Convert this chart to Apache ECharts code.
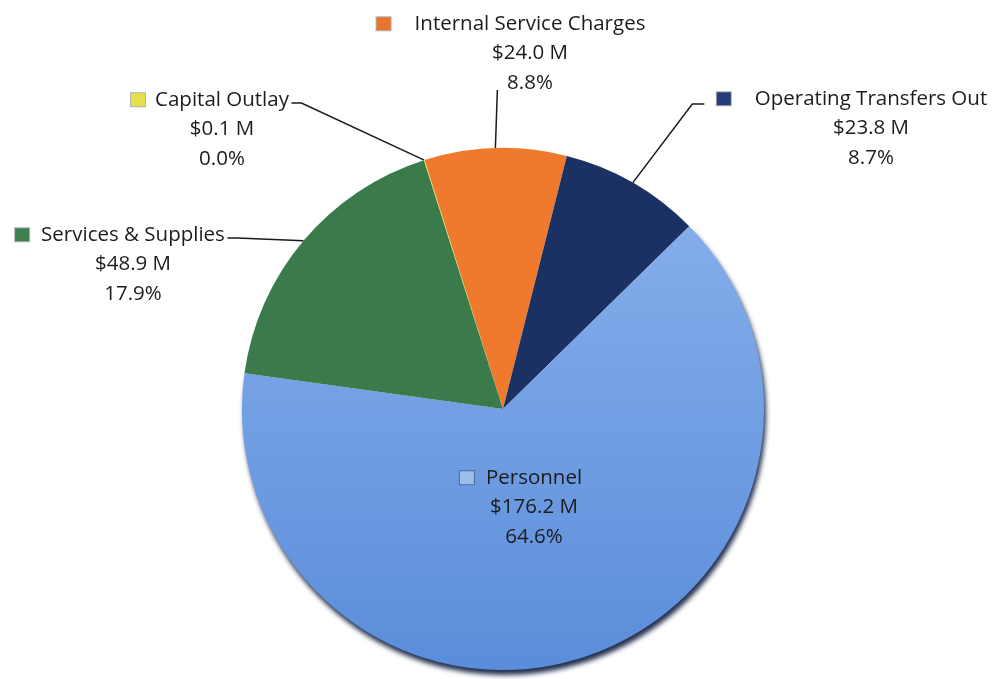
<!DOCTYPE html>
<html>
<head>
<meta charset="utf-8">
<script src="https://cdn.jsdelivr.net/npm/echarts@6/dist/echarts.min.js"></script>
<style>
html,body{margin:0;padding:0;background:#ffffff;}
#chart{width:1000px;height:679px;}
</style>
</head>
<body>
<div id="chart"></div>
<script>
// ---- data ----
const categories = ['Internal Service Charges', 'Operating Transfers Out', 'Personnel', 'Services & Supplies', 'Capital Outlay'];
const amounts = [24.0, 23.8, 176.2, 48.9, 0.1];           // $ millions
const percentLabels = ['8.8%', '8.7%', '64.6%', '17.9%', '0.0%'];

// ---- styles / layout ----
const sliceColors = [
  '#EF7A2E',
  '#1C3163',
  { type: 'linear', x: 0, y: 0, x2: 0, y2: 1, colorStops: [{ offset: 0, color: '#84ADEA' }, { offset: 1, color: '#5A8DDA' }] },
  '#3B7B4B',
  '#E4DC3C'
];
const iconColors = ['#E8742E', '#243C7A', '#9DBDEA', '#3E8050', '#E6E04A'];
const labelPos = [[530, 9], [871, 84], [534, 463], [133, 220], [222, 85]]; // text centre x, block top y
const lineSide = ['bottom', 'left', 'none', 'right', 'right'];
const iconGap = [24, 24, 12, 12, 10];
const ICON_W = 14;
const LINE_H = 29.5;
const FONT_SIZE = 20.5;
const FONT = '"Open Sans", Lato, sans-serif';
const TEXT_COLOR = '#1c1c1c';

const data = categories.map(function (name, i) {
  const item = {
    name: name,
    value: amounts[i],
    itemStyle: { color: sliceColors[i] },
    label: {
      formatter: '{i|}{g|}{n|' + name + '}{g|}{e|}\n{v|$' + amounts[i].toFixed(1) + ' M}\n{v|' + percentLabels[i] + '}',
      rich: {
        i: { width: ICON_W, height: 13, backgroundColor: iconColors[i], borderColor: 'rgba(0,0,0,0.3)', borderWidth: 1, lineHeight: LINE_H },
        g: { width: iconGap[i], lineHeight: LINE_H },
        e: { width: ICON_W, lineHeight: LINE_H },
        n: { fontSize: FONT_SIZE, fontFamily: FONT, color: TEXT_COLOR, lineHeight: LINE_H },
        v: { fontSize: FONT_SIZE, fontFamily: FONT, color: TEXT_COLOR, lineHeight: LINE_H }
      }
    },
    labelLine: { show: lineSide[i] !== 'none' }
  };
  if (name === 'Personnel') {
    item.itemStyle.shadowColor = 'rgba(12,25,60,0.9)';
    item.itemStyle.shadowBlur = 5;
    item.itemStyle.shadowOffsetY = 5;
    item.itemStyle.shadowOffsetX = 2;
  }
  return item;
});

const chart = echarts.init(document.getElementById('chart'), null, { renderer: 'canvas' });
chart.setOption({
  animation: false,
  backgroundColor: '#ffffff',
  series: [{
    type: 'pie',
    center: [503, 409],
    radius: 261,
    startAngle: 107.5,
    clockwise: true,
    avoidLabelOverlap: false,
    silent: true,
    itemStyle: { borderWidth: 0 },
    label: { show: true, position: 'outside', fontFamily: FONT, color: TEXT_COLOR },
    labelLine: { show: true, length: 15, length2: 15, lineStyle: { color: '#1a1a1a', width: 1.5 } },
    emphasis: { disabled: true },
    labelLayout: function (p) {
      const i = p.dataIndex;
      const X = labelPos[i][0], Y = labelPos[i][1];
      const w = p.labelRect.width, h = p.labelRect.height;
      const out = { x: X, y: Y, align: 'center', verticalAlign: 'top' };
      const side = lineSide[i];
      if (side === 'none' || !p.labelLinePoints) return out;
      const p0 = p.labelLinePoints[0];
      const spacer = iconGap[i] + ICON_W;
      const firstY = Y + 18;
      let p1, p2;
      if (side === 'right') {
        p2 = [X + w / 2 - spacer + 2, firstY];
        p1 = [p2[0] + 10, firstY];
      } else if (side === 'left') {
        p2 = [X - w / 2 - 12, firstY + 2];
        p1 = [p2[0] - 12, firstY + 2];
      } else {
        p2 = [p0[0] + 2, Y + h + 1];
        p1 = [(p0[0] + p2[0]) / 2, (p0[1] + p2[1]) / 2];
      }
      out.labelLinePoints = [p0, p1, p2];
      return out;
    },
    data: data
  }]
});
</script>
</body>
</html>
